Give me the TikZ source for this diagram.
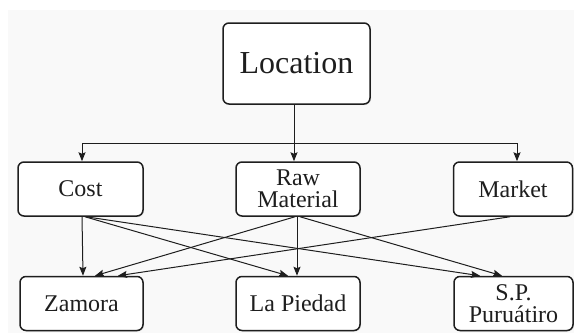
\documentclass[tikz,border=0pt]{standalone}
\usepackage{fontspec}
\setmainfont{Liberation Serif}
\usetikzlibrary{arrows.meta,shadows}
\definecolor{bgc}{HTML}{F9F9F9}
\definecolor{ink}{HTML}{1E1E1E}
\begin{document}
\begin{tikzpicture}[x=1pt,y=-1pt,
  box/.style={draw=ink,line width=1.5pt,rounded corners=6pt,fill=white,
    text=ink,align=center,inner sep=0pt,
    drop shadow={opacity=0.2,shadow xshift=1pt,shadow yshift=-1pt}},
  small/.style={box,font=\fontsize{24}{22}\selectfont,minimum height=54pt},
  arr/.style={draw=ink,line width=1pt,-{Stealth[length=9pt,width=7pt,inset=1.5pt]}}]
\useasboundingbox (0,0) rectangle (574,333);
\fill[white] (0,0) rectangle (574,333);
\fill[bgc] (8,10) rectangle (574,333);
\node[box,font=\fontsize{32}{32}\selectfont,minimum width=147pt,minimum height=81pt] (loc) at (296.5,63.5) {Location};
\node[small,minimum width=125pt] (cost) at (80.5,189) {Cost};
\node[small,minimum width=124pt] (raw) at (298,189) {Raw\\Material};
\node[small,minimum width=119pt] (market) at (513,189) {Market};
\node[small,minimum width=123pt] (zam) at (81.5,303.5) {Zamora};
\node[small,minimum width=124pt] (lap) at (298,303.5) {La Piedad};
\node[small,minimum width=119pt] (sp) at (513.5,303.5) {S.P.\\Puruátiro};
\coordinate (j) at (294,143);
\draw[arr] ([xshift=-2.5pt]loc.south) -- ([xshift=-2.5pt]loc.south |- raw.north);
\draw[arr] (j) -| ([xshift=1.5pt]cost.north);
\draw[arr] (j) -| ([xshift=4pt]market.north);
% lower connectors
\draw[arr] ([xshift=1.5pt]cost.south) -- ([xshift=1.5pt]zam.north);
\draw[arr] ([xshift=4.5pt]cost.south) -- ([xshift=-10pt]lap.north);
\draw[arr] ([xshift=5.5pt]cost.south) -- ([xshift=-33.5pt]sp.north);
\draw[arr] ([xshift=-3pt]raw.south) -- ([xshift=13.5pt]zam.north);
\draw[arr] ([xshift=-1pt]raw.south) -- ([xshift=-1pt]lap.north);
\draw[arr] ([xshift=2pt]raw.south) -- ([xshift=-11.5pt]sp.north);
\draw[arr] ([xshift=-3pt]market.south) -- ([xshift=36.5pt]zam.north);
\end{tikzpicture}
\end{document}
